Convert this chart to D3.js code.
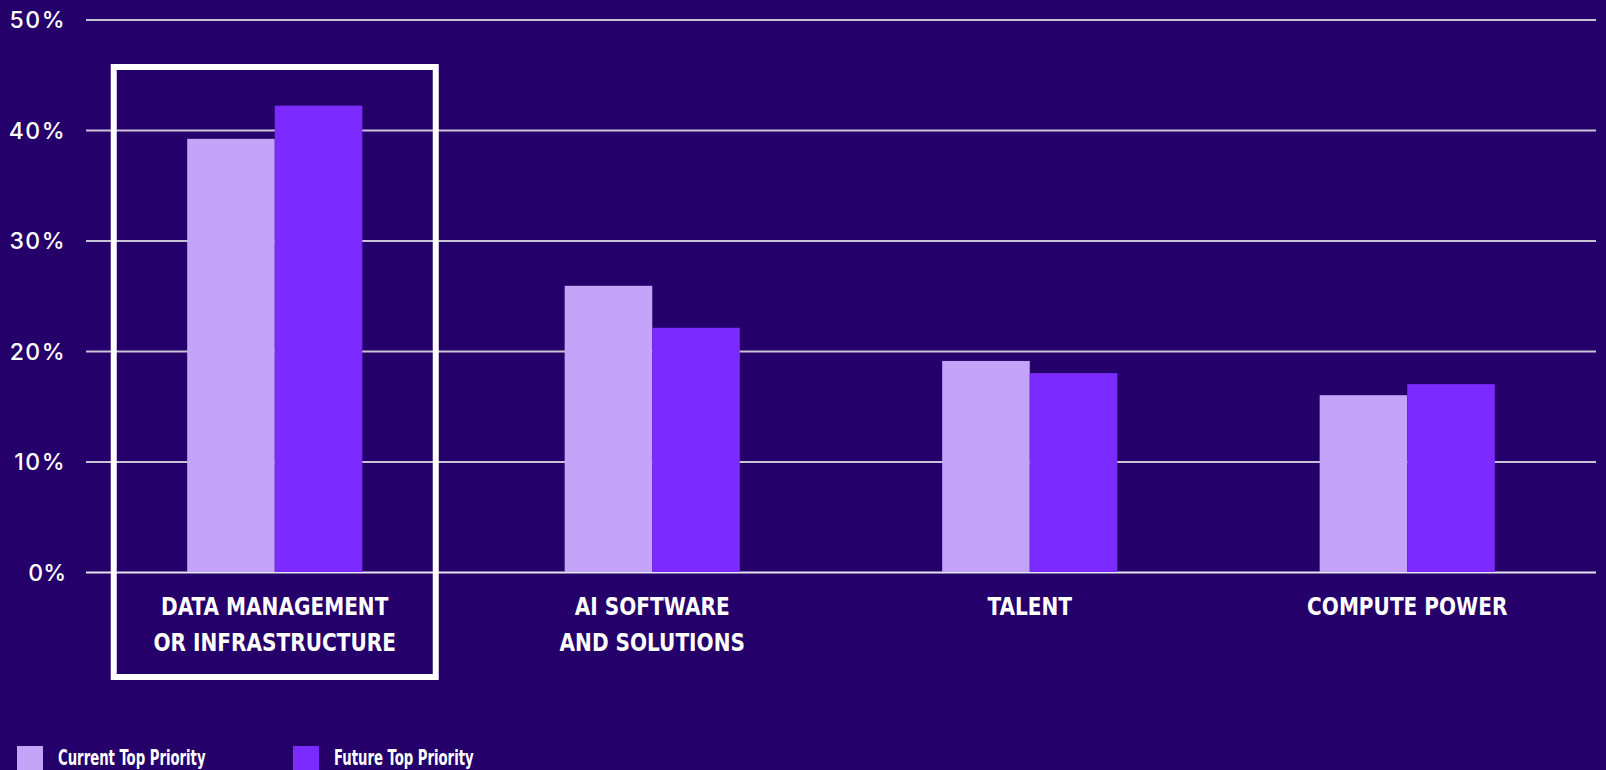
<!DOCTYPE html>
<html>
<head>
<meta charset="utf-8">
<script src="https://cdn.jsdelivr.net/npm/d3@7"></script>
<style>
  html, body { margin: 0; padding: 0; background: #26006A; overflow: hidden; }
  svg { display: block; }
</style>
</head>
<body>
<svg id="chart" width="1606" height="770"></svg>
<script>
// ---- data ----
const categories = [
  ["DATA MANAGEMENT", "OR INFRASTRUCTURE"],
  ["AI SOFTWARE", "AND SOLUTIONS"],
  ["TALENT"],
  ["COMPUTE POWER"]
];
const seriesNames = ["Current Top Priority", "Future Top Priority"];
const currentValues = [39.2, 25.9, 19.1, 16.0];
const futureValues  = [42.2, 22.1, 18.0, 17.0];
const tickValues = [0, 10, 20, 30, 40, 50];
const tickLabels = ["0%", "10%", "20%", "30%", "40%", "50%"];
const highlightIndex = 0;

// ---- styles ----
const BG = "#26006A";
const colors = ["#C4A3F9", "#7B2AFF"];
const condensedFont = "'DejaVu Sans Condensed', 'Liberation Sans Narrow', sans-serif";
const labelSqueeze = 0.93;
const legendSqueeze = 0.70;

const svg = d3.select("#chart");
svg.append("rect").attr("width", 1606).attr("height", 770).attr("fill", BG);

const y = d3.scaleLinear().domain([0, 50]).range([572, 19.5]);
const keys = categories.map((c, i) => i);
const x0 = d3.scaleBand().domain(keys).range([86, 1596]).paddingInner(0.536).paddingOuter(0.268);
const x1 = d3.scaleBand().domain([0, 1]).range([0, x0.bandwidth()]);

// gridlines + y labels via axis
const yAxis = d3.axisLeft(y)
  .tickValues(tickValues)
  .tickSize(-(1596 - 86))
  .tickFormat((d, i) => tickLabels[i]);

const gy = svg.append("g").attr("transform", "translate(86,0)").call(yAxis);
gy.select(".domain").remove();
gy.selectAll(".tick line")
  .attr("stroke", (d) => d === 0 ? "#E6E3EC" : "#C9C3D6")
  .attr("stroke-width", 2);
gy.selectAll(".tick text")
  .attr("x", -20)
  .attr("fill", "#FFFFFF")
  .attr("font-family", "Inter, 'Open Sans', sans-serif")
  .attr("font-size", 23)
  .attr("font-weight", 500)
  .attr("letter-spacing", (d) => d === 0 ? 0 : 1.5)
  .attr("dy", "0.36em");

// bars
const data = keys.map(i => [currentValues[i], futureValues[i]]);
const groups = svg.append("g").selectAll("g").data(data).join("g")
  .attr("transform", (d, i) => `translate(${x0(i)},0)`);
groups.selectAll("rect").data(d => d).join("rect")
  .attr("x", (d, j) => x1(j))
  .attr("y", d => y(d))
  .attr("width", x1.bandwidth())
  .attr("height", d => y(0) - y(d))
  .attr("fill", (d, j) => colors[j]);

// category labels
const labels = svg.append("g").selectAll("text").data(categories).join("text")
  .attr("x", (d, i) => x0(i) + x0.bandwidth() / 2)
  .attr("y", 615)
  .attr("text-anchor", "middle")
  .attr("fill", "#FFFFFF")
  .attr("font-family", condensedFont)
  .attr("font-weight", 700)
  .attr("font-size", 24);
labels.each(function (lines) {
  const t = d3.select(this);
  const xx = t.attr("x");
  lines.forEach((line, k) => {
    const ts = t.append("tspan").attr("x", xx).attr("dy", k === 0 ? 0 : 36).text(line);
    const w = ts.node().getComputedTextLength();
    ts.attr("textLength", w * labelSqueeze).attr("lengthAdjust", "spacingAndGlyphs");
  });
});

// highlight box
const cx = x0(highlightIndex) + x0.bandwidth() / 2;
svg.append("rect")
  .attr("x", cx - 161)
  .attr("y", 67)
  .attr("width", 322)
  .attr("height", 610)
  .attr("fill", "none")
  .attr("stroke", "#FFFFFF")
  .attr("stroke-width", 6);

// legend
const legendX = [17, 293];
const leg = svg.append("g").selectAll("g").data(seriesNames).join("g")
  .attr("transform", (d, i) => `translate(${legendX[i]},746)`);
leg.append("rect").attr("width", 26).attr("height", 26).attr("fill", (d, i) => colors[i]);
leg.append("text")
  .attr("x", 41)
  .attr("y", 19)
  .attr("fill", "#FFFFFF")
  .attr("font-family", condensedFont)
  .attr("font-weight", 700)
  .attr("font-size", 21)
  .text(d => d)
  .each(function () {
    const w = this.getComputedTextLength();
    d3.select(this).attr("textLength", w * legendSqueeze).attr("lengthAdjust", "spacingAndGlyphs");
  });
</script>
</body>
</html>
